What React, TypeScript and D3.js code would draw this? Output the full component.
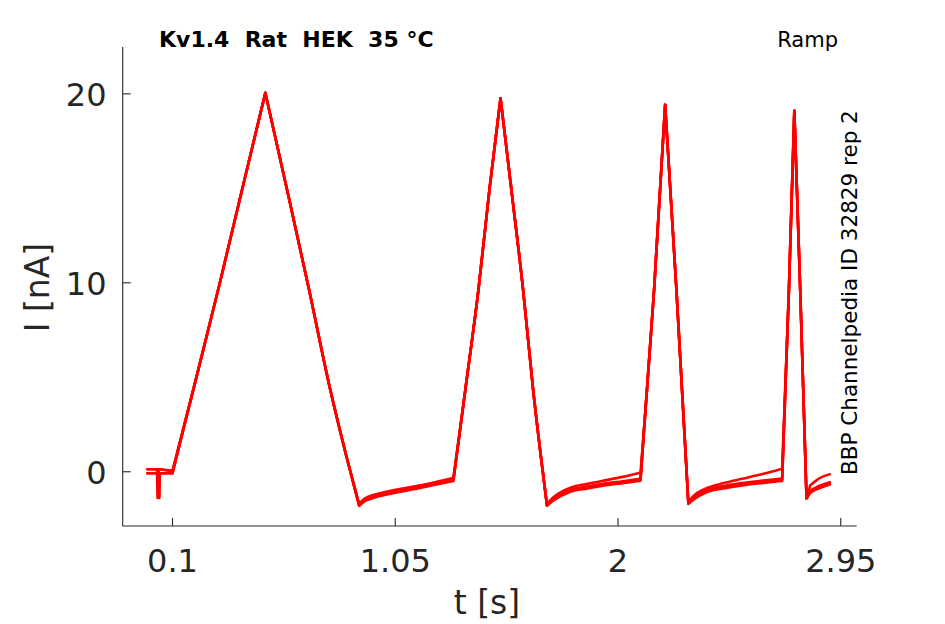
import * as d3 from 'd3';

// sample times [s], shared by every sweep
const T = [
  -0.007,
  0.034, 0.036, 0.038, 0.04, 0.042, 0.044, 0.046,
  0.1,
  0.2, 0.3, 0.4, 0.496,
  0.589, 0.682, 0.77, 0.84, 0.896,
  0.92, 0.96, 1.04, 1.14, 1.22, 1.298,
  1.349, 1.405, 1.452, 1.499,
  1.545, 1.595, 1.638, 1.697,
  1.73, 1.794, 1.87, 1.936, 2.02, 2.096,
  2.154, 2.201,
  2.249, 2.3,
  2.32, 2.38, 2.45, 2.53, 2.62, 2.7,
  2.729, 2.752,
  2.777, 2.804,
  2.82, 2.86, 2.903,
];

// current [nA] per sweep
const sweepA = [
  0.13,
  0.13, -1.38, 0.13, 0.13, 0.13, 0.13, 0.13,
  0.05,
  4.9, 9.9, 15.1, 20.05,
  14.9, 9.66, 4.5, 0.9, -1.7,
  -1.42, -1.22, -0.98, -0.75, -0.55, -0.33,
  4.35, 9.66, 14.96, 19.77,
  14.96, 9.66, 4.35, -1.7,
  -1.3, -0.86, -0.64, -0.48, -0.27, -0.05,
  9.66, 19.42,
  9.66, -1.6,
  -1.3, -0.86, -0.6, -0.37, -0.11, 0.16,
  9.66, 19.11,
  9.66, -1.35,
  -0.72, -0.33, -0.13,
];
const sweepB = [
  0.13,
  0.13, 0.13, 0.13, -1.38, 0.13, 0.13, 0.13,
  0.03,
  4.9, 9.9, 15.1, 20.05,
  14.9, 9.66, 4.5, 0.9, -1.75,
  -1.48, -1.29, -1.06, -0.82, -0.61, -0.41,
  4.35, 9.66, 14.96, 19.77,
  14.96, 9.66, 4.35, -1.75,
  -1.38, -0.97, -0.78, -0.64, -0.5, -0.37,
  9.66, 19.42,
  9.66, -1.65,
  -1.37, -0.96, -0.76, -0.6, -0.47, -0.36,
  9.66, 19.11,
  9.66, -1.38,
  -1.0, -0.74, -0.55,
];
const sweepC = [
  -0.08,
  -0.08, -0.08, -0.08, -0.08, -1.38, -0.08, -0.08,
  -0.08,
  4.9, 9.9, 15.1, 20.05,
  14.9, 9.66, 4.5, 0.9, -1.78,
  -1.52, -1.33, -1.1, -0.86, -0.65, -0.45,
  4.35, 9.66, 14.96, 19.77,
  14.96, 9.66, 4.35, -1.78,
  -1.43, -1.02, -0.83, -0.69, -0.55, -0.42,
  9.66, 19.42,
  9.66, -1.67,
  -1.43, -1.01, -0.82, -0.66, -0.53, -0.42,
  9.66, 19.11,
  9.66, -1.4,
  -1.06, -0.8, -0.61,
];
const sweepD = [
  -0.08,
  -0.08, -0.08, -0.08, -0.08, -0.08, -1.38, -0.08,
  -0.08,
  4.9, 9.9, 15.1, 20.05,
  14.9, 9.66, 4.5, 0.9, -1.8,
  -1.56, -1.37, -1.14, -0.9, -0.69, -0.49,
  4.35, 9.66, 14.96, 19.77,
  14.96, 9.66, 4.35, -1.8,
  -1.48, -1.07, -0.88, -0.74, -0.6, -0.47,
  9.66, 19.42,
  9.66, -1.7,
  -1.49, -1.07, -0.88, -0.72, -0.59, -0.48,
  9.66, 19.11,
  9.66, -1.42,
  -1.12, -0.86, -0.67,
];
const sweeps = [sweepA, sweepB, sweepC, sweepD];

const xTicks = [0.1, 1.05, 2, 2.95];
const yTicks = [0, 10, 20];
const title = 'Kv1.4\u00a0\u00a0Rat\u00a0\u00a0HEK\u00a0\u00a035 °C';
const protocol = 'Ramp';
const sideNote = 'BBP Channelpedia ID 32829 rep 2';

const W = 945;
const H = 624;
const axisColor = '#262626';
const font = 'DejaVu Sans, sans-serif';

// split a sweep into smooth runs: break wherever the direction flips
// or the slope jumps, so ramp corners stay sharp
function runs(values: number[]): number[][] {
  const out: number[][] = [];
  let cur = [0];
  for (let i = 1; i < values.length; i++) {
    cur.push(i);
    if (i < values.length - 1) {
      const s1 = (values[i] - values[i - 1]) / (T[i] - T[i - 1]);
      const s2 = (values[i + 1] - values[i]) / (T[i + 1] - T[i]);
      const flip = Math.sign(s1) !== Math.sign(s2);
      const jump =
        Math.abs(s2) > 3 * Math.abs(s1) || Math.abs(s1) > 3 * Math.abs(s2);
      if (flip || jump) {
        out.push(cur);
        cur = [i];
      }
    }
  }
  out.push(cur);
  return out;
}

export default function App() {
  const x = d3.scaleLinear().domain([-0.1124, 3.018]).range([122.7, 856.7]);
  const y = d3.scaleLinear().domain([-2.87, 22.48]).range([526, 47]);

  const [x0, x1] = x.range();
  const [yb, yt] = y.range();

  const pathFor = (s: number[]) => {
    const line = d3
      .line<number>()
      .x((i) => x(T[i]))
      .y((i) => y(s[i]))
      .curve(d3.curveMonotoneX);
    return runs(s)
      .map((r) => line(r) ?? '')
      .join('');
  };

  return (
    <svg
      width={W}
      height={H}
      viewBox={`0 0 ${W} ${H}`}
      style={{ position: 'absolute', left: 0, top: 0, background: '#fff' }}
    >
      <rect width={W} height={H} fill="#fff" />

      {/* traces */}
      <g
        fill="none"
        stroke="#ff0000"
        strokeWidth={2.6}
        strokeLinejoin="round"
        strokeLinecap="round"
      >
        {sweeps.map((s, i) => (
          <path key={i} d={pathFor(s)} />
        ))}
      </g>

      {/* axes */}
      <g stroke={axisColor} strokeWidth={1.1} fill="none">
        <line x1={x0} x2={x0} y1={yt} y2={yb} />
        <line x1={x0} x2={x1} y1={yb} y2={yb} />
        {xTicks.map((t) => (
          <line key={t} x1={x(t)} x2={x(t)} y1={yb} y2={yb - 8} />
        ))}
        {yTicks.map((t) => (
          <line key={t} x1={x0} x2={x0 + 8} y1={y(t)} y2={y(t)} />
        ))}
      </g>

      <g fill={axisColor} fontFamily={font} fontSize={32}>
        {xTicks.map((t) => (
          <text key={t} x={x(t)} y={571.5} textAnchor="middle">
            {String(t)}
          </text>
        ))}
        {yTicks.map((t) => (
          <text key={t} x={106.5} y={y(t) + 12} textAnchor="end">
            {String(t)}
          </text>
        ))}
      </g>

      <text
        x={487}
        y={614}
        textAnchor="middle"
        fontFamily={font}
        fontSize={33}
        fill={axisColor}
      >
        t [s]
      </text>
      <text
        transform="translate(49,287.5) rotate(-90)"
        textAnchor="middle"
        fontFamily={font}
        fontSize={33}
        fill={axisColor}
      >
        I [nA]
      </text>

      <text x={159} y={46.7} fontFamily={font} fontSize={22} fontWeight="bold" fill="#000">
        {title}
      </text>
      <text x={838} y={46.7} textAnchor="end" fontFamily={font} fontSize={21} fill="#000">
        {protocol}
      </text>
      <text
        transform="translate(857,475) rotate(-90)"
        fontFamily={font}
        fontSize={21.5}
        fill="#000"
      >
        {sideNote}
      </text>
    </svg>
  );
}
